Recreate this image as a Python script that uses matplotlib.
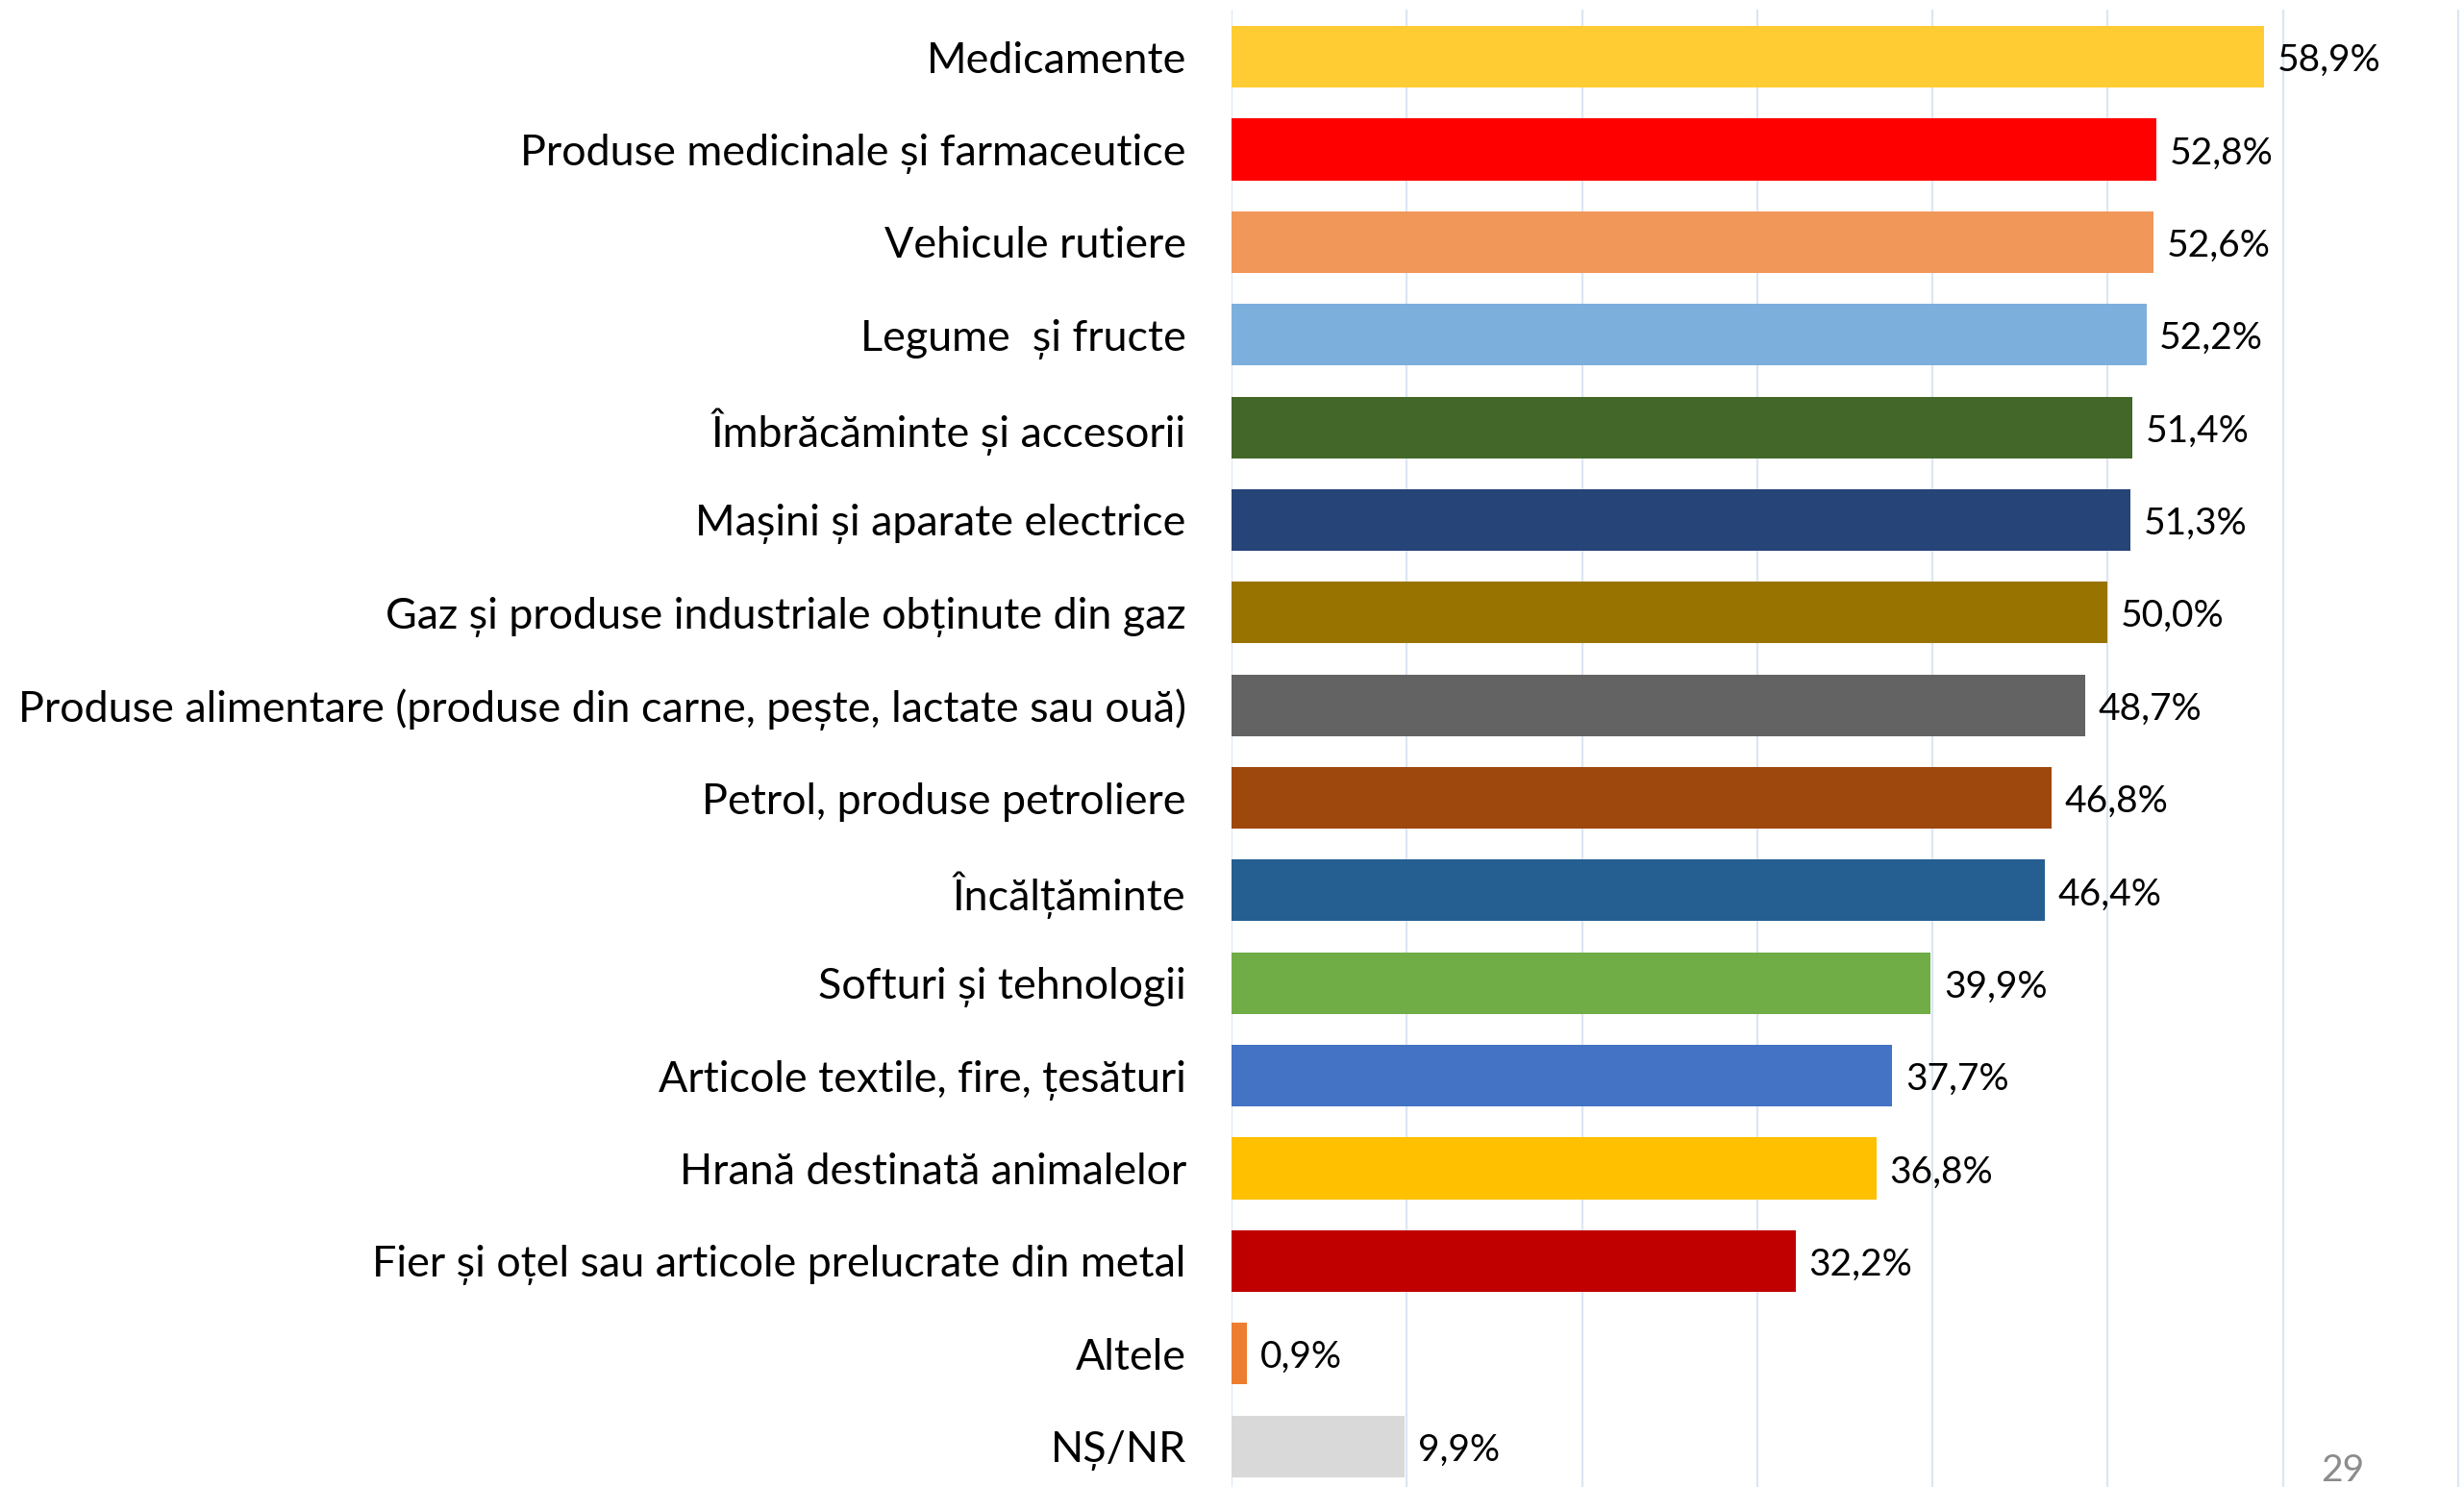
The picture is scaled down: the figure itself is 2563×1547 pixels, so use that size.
import numpy as np
import matplotlib
matplotlib.use("Agg")
import matplotlib.pyplot as plt
import matplotlib.transforms as mtransforms

# categories, top to bottom
categories = ["Medicamente",
              "Produse medicinale și farmaceutice",
              "Vehicule rutiere",
              "Legume  și fructe",
              "Îmbrăcăminte și accesorii",
              "Mașini și aparate electrice",
              "Gaz și produse industriale obținute din gaz",
              "Produse alimentare (produse din carne, pește, lactate sau ouă)",
              "Petrol, produse petroliere",
              "Încălțăminte",
              "Softuri și tehnologii",
              "Articole textile, fire, țesături",
              "Hrană destinată animalelor",
              "Fier și oțel sau articole prelucrate din metal",
              "Altele",
              "NȘ/NR"]
values = [58.9, 52.8, 52.6, 52.2, 51.4, 51.3, 50.0, 48.7, 46.8, 46.4, 39.9, 37.7, 36.8, 32.2, 0.9, 9.9]
colors = ["#FFCC33", "#FF0000", "#F19759", "#7DAFDD", "#436729", "#264478", "#997300", "#636363",
          "#9E480E", "#255E91", "#70AD47", "#4472C4", "#FFC000", "#C00000", "#ED7D31", "#D9D9D9"]
page_number = "29"

plt.rcParams['font.family'] = ['Lato', 'DejaVu Sans']

fig = plt.figure(figsize=(25.63, 15.47), dpi=100)
ax = fig.add_axes([0.4998, 0.0, 0.5002, 0.99354])

y = np.arange(len(categories))
ax.barh(y, values, height=0.665, color=colors, zorder=3)

# value labels like "58,9%", sit a bit under the bar centre
for yi, v in zip(y, values):
    ax.text(v + 0.75, yi + 0.04, "{:.1f}%".format(v).replace(".", ","), va="center", ha="left",
            fontsize=28, color="black", zorder=4)

ax.set_yticks(y)
ax.set_yticklabels(categories, fontsize=32.3)
# nudge category labels up a little
shift = mtransforms.ScaledTranslation(0, 2.5 / 72, fig.dpi_scale_trans)
for lbl in ax.get_yticklabels():
    lbl.set_transform(lbl.get_transform() + shift)
ax.tick_params(axis="y", length=0, pad=34)
ax.tick_params(axis="x", length=0, labelbottom=False)
ax.set_xticks(np.arange(0, 71, 10))
ax.set_xlim(0, 70.33)
ax.set_ylim(15.44, -0.51)
ax.grid(axis="x", color="#DCE6F2", linewidth=1.6, zorder=0)
ax.grid(axis="y", visible=False)
for s in ax.spines.values():
    s.set_visible(False)

fig.text(2437 / 2563, 1 - 1512 / 1547, page_number, ha="center", va="top", fontsize=28, color="#8C8C8C")

fig.savefig("out.png", dpi=100)
